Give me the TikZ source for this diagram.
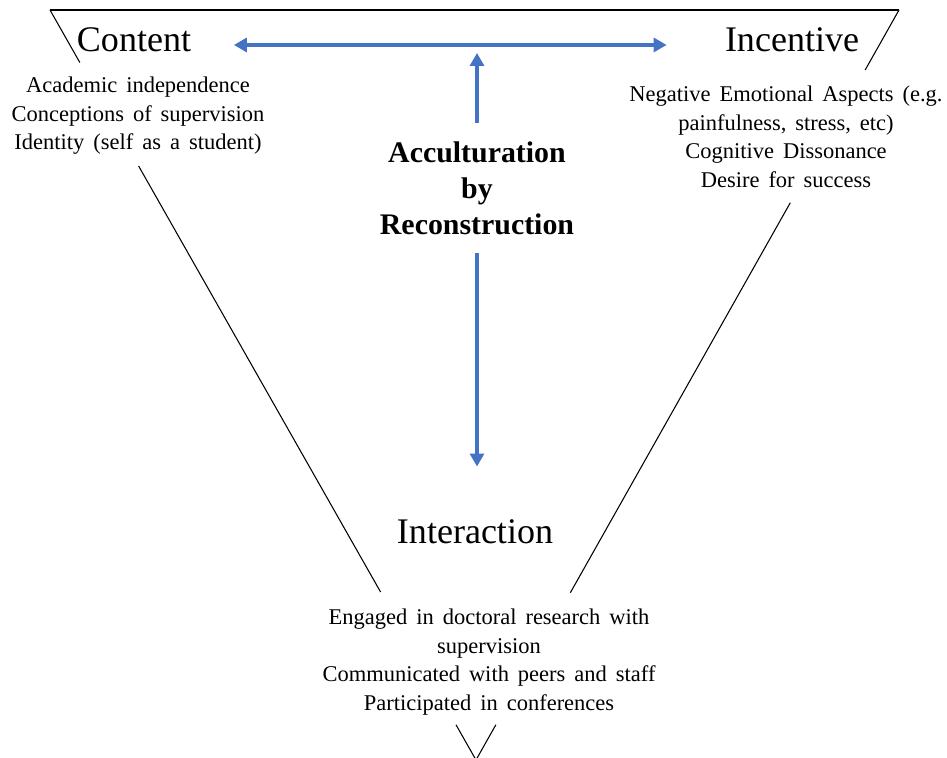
\documentclass[tikz,border=0pt]{standalone}
\usepackage{fontspec}
\setmainfont{Liberation Serif}
\newfontfamily\listfont[WordSpace=1.6]{Liberation Serif}
\usetikzlibrary{arrows.meta,calc}
\definecolor{arrowc}{RGB}{68,114,196}

\begin{document}
\begin{tikzpicture}[>={Triangle[length=2.6mm,width=2.8mm]},
  head/.style={font=\fontsize{20.5}{24}\selectfont,inner sep=2pt},
  items/.style={align=center,inner sep=2pt,font=\listfont\fontsize{12.8}{16.2}\selectfont},
  core/.style={align=center,inner sep=2pt,font=\bfseries\fontsize{17}{20.5}\selectfont},
  barrow/.style={arrowc,line width=1.8pt}]
\useasboundingbox (0,0) rectangle (18.94,15.16);

%================= the inverted triangle =================
\coordinate (tl) at (1.00,14.96);
\coordinate (tr) at (17.98,14.96);
\coordinate (apex) at (9.52,-0.04);
\draw[line width=0.7pt] (tl) -- (tr);
% left side, broken where the text sits
\draw[line width=0.6pt] (tl) -- ($(tl)!0.07!(apex)$);
\draw[line width=0.6pt] ($(tl)!0.208!(apex)$) -- ($(tl)!0.776!(apex)$);
\draw[line width=0.6pt] ($(tl)!0.953!(apex)$) -- (apex);
% right side
\draw[line width=0.6pt] (tr) -- ($(tr)!0.08!(apex)$);
\draw[line width=0.6pt] ($(tr)!0.257!(apex)$) -- ($(tr)!0.777!(apex)$);
\draw[line width=0.6pt] ($(tr)!0.953!(apex)$) -- (apex);

%================= corners =================
\node[head] (content) at (2.68,14.36) {Content};
\node[items] (contentlist) at (2.76,12.84)
  {Academic independence\\Conceptions of supervision\\Identity (self as a student)};

\node[head] (incentive) at (15.84,14.36) {Incentive};
\node[items] (incentivelist) at (15.72,12.42)
  {Negative Emotional Aspects (e.g.\\painfulness, stress, etc)\\Cognitive Dissonance\\Desire for success};

\node[head] (interaction) at (9.50,4.52) {Interaction};
\node[items] (interactionlist) at (9.78,1.92)
  {Engaged in doctoral research with\\supervision\\Communicated with peers and staff\\Participated in conferences};

%================= centre and arrows =================
\node[core] (accult) at (9.54,11.40) {Acculturation\\by\\Reconstruction};

\coordinate (uptip) at (9.54,14.10);
\draw[barrow,<->,shorten <=7.8mm,shorten >=10.9mm]
  ([yshift=-1mm]content.east) -- ([yshift=-1mm]incentive.west);
\draw[barrow,->,shorten <=3mm] (accult.north) -- (uptip);
\draw[barrow,->,shorten <=2.9mm,shorten >=9.9mm] (accult.south) -- (accult.south |- interaction.north);
\end{tikzpicture}
\end{document}
